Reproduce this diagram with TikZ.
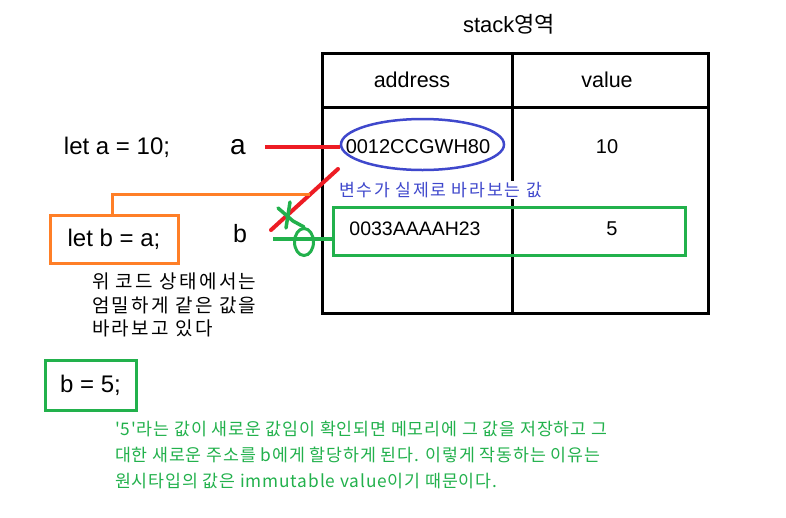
\documentclass[tikz,border=0pt]{standalone}
\usepackage{fontspec}
\usetikzlibrary{shapes.geometric}
\setmainfont{Liberation Sans}
\newfontfamily\kr{Noto Sans CJK KR}
\newfontfamily\krw[LetterSpace=12]{Noto Sans CJK KR}
\newfontfamily\krb[LetterSpace=10]{Noto Sans CJK KR}
\newfontfamily\krm[LetterSpace=5]{Noto Sans CJK KR}
\definecolor{pred}{RGB}{237,28,36}
\definecolor{pgreen}{RGB}{34,177,76}
\definecolor{porange}{RGB}{255,127,39}
\definecolor{pblue}{RGB}{63,72,204}
\begin{document}
\begin{tikzpicture}[x=1pt,y=-1pt,
  txt/.style={inner sep=0pt,outer sep=0pt},
  tbl/.style={draw=black,line width=3pt},
  redline/.style={draw=pred,line width=4pt},
  greenline/.style={draw=pgreen,line width=3.5pt},
  orangeline/.style={draw=porange,line width=3pt},
  codebox/.style={draw,line width=3pt,minimum height=48pt,inner sep=0pt},
  ]
\useasboundingbox[fill=white] (0,0) rectangle (786,517);
% title
\node[txt] (title) at (509,24) {\fontsize{22}{26}\selectfont stack{\kr 영역}};
% table
\draw[tbl] (322,53) rectangle (708,313);
\draw[tbl] (322,107) -- (708,107);
\draw[tbl] (512,53) -- (512,313);
\node[txt] (haddr) at (412,80) {\fontsize{21.5}{26}\selectfont address};
\node[txt] (hval) at (607,80) {\fontsize{21.5}{26}\selectfont value};
% row a
\node[draw=pblue,line width=2.5pt,ellipse,minimum width=163pt,minimum height=51pt,inner sep=0pt] (ell) at (422.5,144.5) {};
\node[txt] (addrA) at (418,146.5) {\fontsize{20}{24}\selectfont 0012CCGWH80};
\node[txt] (valA) at (607,147) {\fontsize{20}{24}\selectfont 10};
\node[txt,anchor=west,fill=white,inner ysep=1pt] (note) at (339,190) {\krb\color{pblue}\fontsize{17.2}{20}\selectfont 변수가 실제로 바라보는 값};
% row b
\node[draw=pgreen,line width=3pt,minimum width=352pt,minimum height=48pt,inner sep=0pt] (gbox) at (509,231) {};
\node[txt] (addrB) at (415,229) {\fontsize{19.5}{24}\selectfont 0033AAAAH23};
\node[txt] (valB) at (612,229) {\fontsize{20}{24}\selectfont 5};
% left side
\node[txt] (leta) at (117,147) {\fontsize{24}{28}\selectfont let a = 10;};
\node[txt] (a) at (238,147) {\fontsize{28}{32}\selectfont a};
\node[txt] (b) at (240,234) {\fontsize{25}{30}\selectfont b};
\node[codebox,draw=porange,minimum width=128pt] (letb) at (114,239) {\fontsize{24}{28}\selectfont let b = a;};
\node[codebox,draw=pgreen,minimum width=91pt,minimum height=50pt] (b5) at (90.5,385) {\fontsize{24}{28}\selectfont b = 5;};
\node[txt,anchor=north west,align=left,font={\krw\fontsize{19}{23.5}\selectfont}] (expl) at (92,273) {위 코드 상태에서는\\엄밀하게 같은 값을\\바라보고 있다};
\node[txt,anchor=north west,align=left,text=pgreen,font={\krm\fontsize{17.3}{26}\selectfont}] (bottom) at (115,421) {'5'라는 값이 새로운 값임이 확인되면 메모리에 그 값을 저장하고 그\\대한 새로운 주소를 b에게 할당하게 된다. 이렇게 작동하는 이유는\\원시타입의 값은 immutable value이기 때문이다.};
% connectors
\coordinate (aend) at (265,147);
\draw[redline] (aend) -- (aend -| ell.west);
\coordinate (r1) at (338,169);
\coordinate (r2) at (271,230);
\draw[redline,line cap=round] (r1) -- (r2);
\coordinate (oend) at (310,194);
\draw[orangeline] (letb.north -| 112,0) |- (oend);
\coordinate (gstart) at (273,239);
\coordinate (gend) at (gbox.west |- 0,239);
\draw[greenline] (gstart) -- (gend);
\node[draw=pgreen,line width=3pt,ellipse,minimum width=19pt,minimum height=27pt,inner sep=0pt] (gell) at (304,242) {};
\coordinate (x1a) at (290,202);
\coordinate (x1b) at (286,228);
\coordinate (x2a) at (278,208);
\coordinate (x2b) at (293,221);
\draw[greenline,line cap=round] (x1a) -- (x1b);
\draw[greenline,line cap=round] (x2a) -- (x2b) -- (gell.north);
\end{tikzpicture}
\end{document}
